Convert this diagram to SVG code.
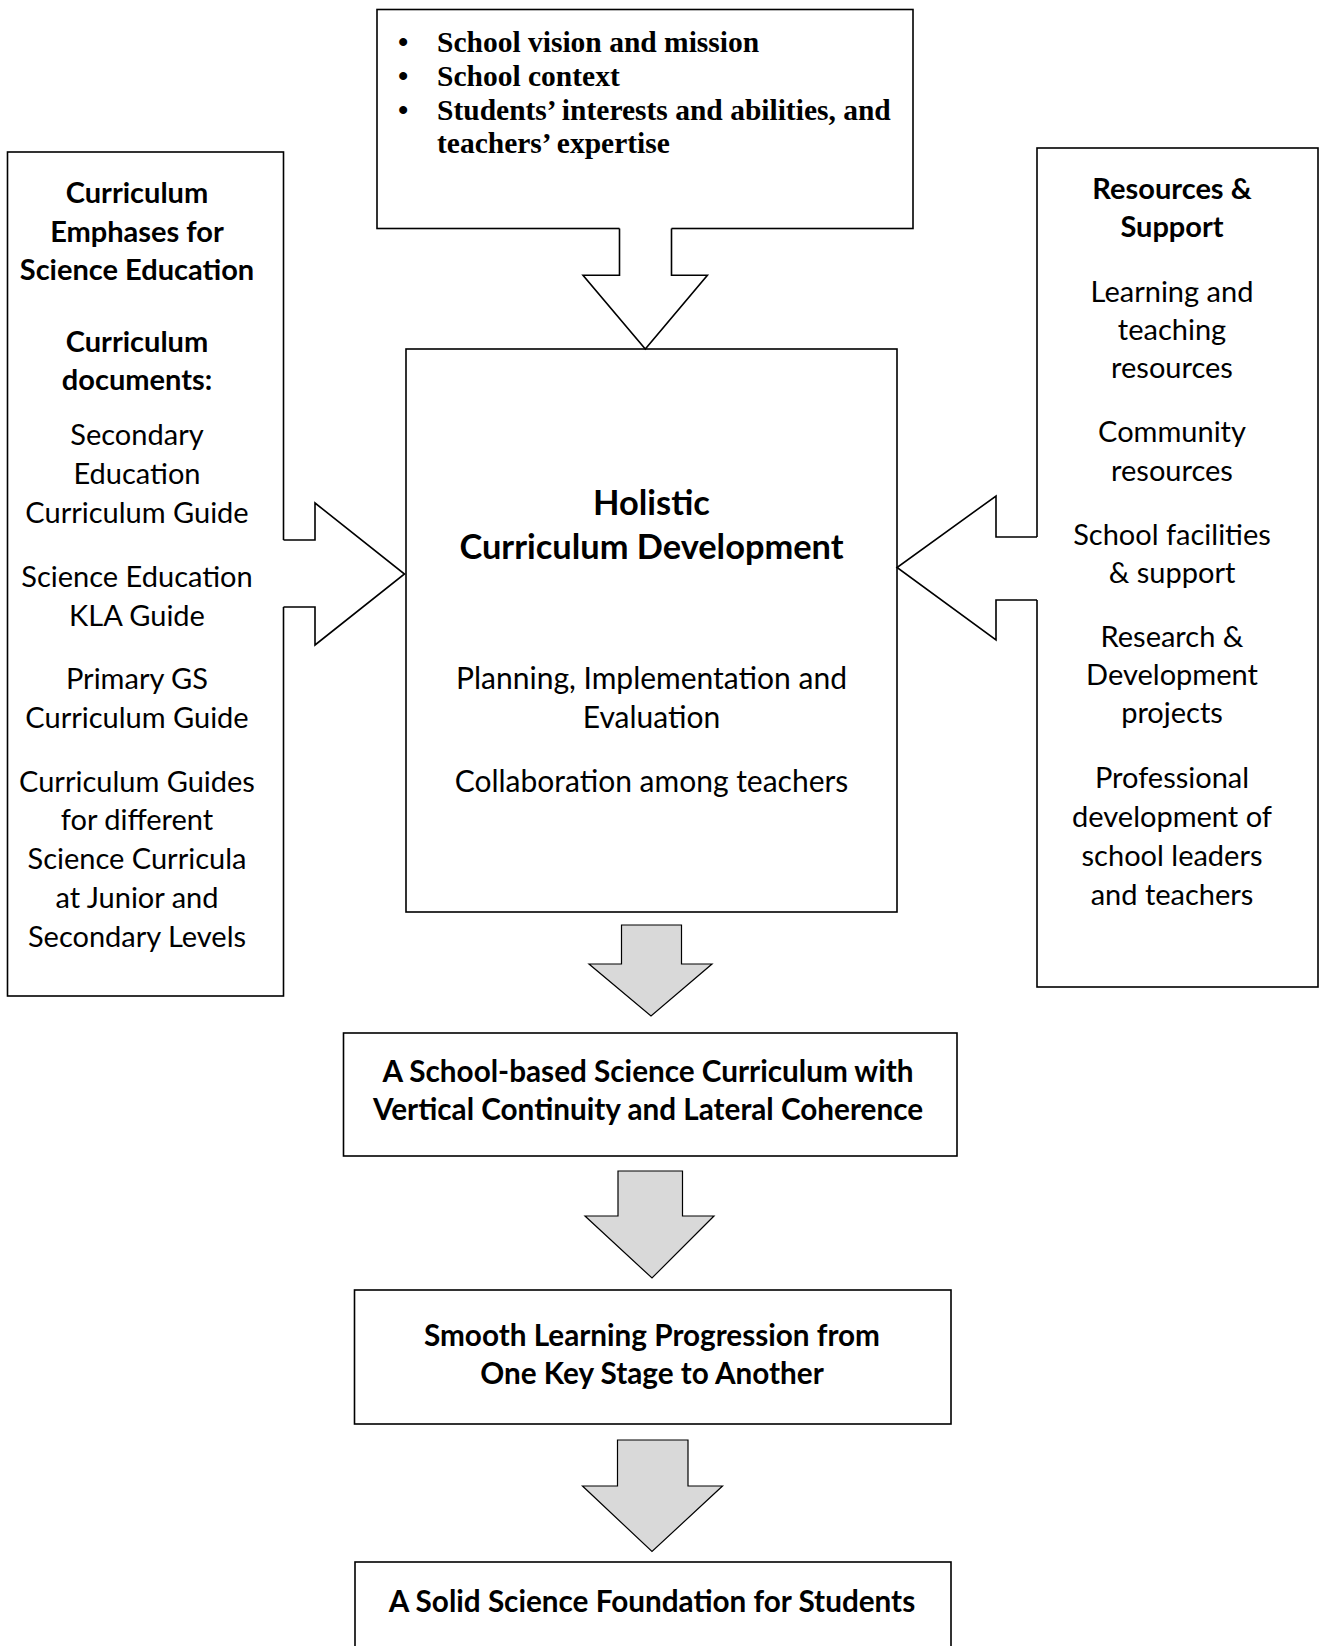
<svg xmlns="http://www.w3.org/2000/svg" width="1321" height="1646" viewBox="0 0 1321 1646">
<style>
.box{fill:#fff;stroke:#000;stroke-width:1.6}
.ln{fill:none;stroke:#000;stroke-width:1.6;stroke-linejoin:miter}
.wf{fill:#fff;stroke:none}
.ga{fill:#d9d9d9;stroke:#000;stroke-width:1.2;stroke-linejoin:miter}
.t{font-family:Lato,"Open Sans","Liberation Sans",sans-serif;font-size:29px;text-anchor:middle;fill:#000}
.c{font-size:30px}
.b{font-weight:bold}
.ti{font-size:34.4px}
.bt{font-family:Lato,"Open Sans","Liberation Sans",sans-serif;font-size:29.7px;font-weight:bold;text-anchor:middle;fill:#000}
.tm{font-family:"Liberation Serif","Times New Roman",serif;font-size:29.5px;font-weight:bold;fill:#000}
</style>
<rect width="1321" height="1646" fill="#fff"/>

<g id="context">
<rect class="box" x="377" y="9.5" width="536" height="219"/>
<text class="tm" x="398" y="52">•</text><text class="tm" x="437" y="52">School vision and mission</text>
<text class="tm" x="398" y="86">•</text><text class="tm" x="437" y="86">School context</text>
<text class="tm" x="398" y="119.5">•</text><text class="tm" x="437" y="119.5">Students’ interests and abilities, and</text>
<text class="tm" x="437" y="153">teachers’ expertise</text>
</g>

<g id="curriculum-documents">
<rect class="box" x="7.5" y="152" width="276" height="844"/>
<text class="t b" x="137" y="203">Curriculum</text>
<text class="t b" x="137" y="242">Emphases for</text>
<text class="t b" x="137" y="280">Science Education</text>
<text class="t b" x="137" y="352">Curriculum</text>
<text class="t b" x="137" y="390">documents:</text>
<text class="t" x="137" y="445">Secondary</text>
<text class="t" x="137" y="484">Education</text>
<text class="t" x="137" y="523">Curriculum Guide</text>
<text class="t" x="137" y="587">Science Education</text>
<text class="t" x="137" y="626">KLA Guide</text>
<text class="t" x="137" y="689">Primary GS</text>
<text class="t" x="137" y="728">Curriculum Guide</text>
<text class="t" x="137" y="792">Curriculum Guides</text>
<text class="t" x="137" y="830">for different</text>
<text class="t" x="137" y="869">Science Curricula</text>
<text class="t" x="137" y="908">at Junior and</text>
<text class="t" x="137" y="947">Secondary Levels</text>
</g>

<g id="resources-support">
<rect class="box" x="1037" y="148" width="281" height="839"/>
<text class="t b" x="1172" y="199">Resources &amp;</text>
<text class="t b" x="1172" y="237">Support</text>
<text class="t" x="1172" y="302">Learning and</text>
<text class="t" x="1172" y="340">teaching</text>
<text class="t" x="1172" y="378">resources</text>
<text class="t" x="1172" y="442">Community</text>
<text class="t" x="1172" y="481">resources</text>
<text class="t" x="1172" y="545">School facilities</text>
<text class="t" x="1172" y="583">&amp; support</text>
<text class="t" x="1172" y="647">Research &amp;</text>
<text class="t" x="1172" y="685">Development</text>
<text class="t" x="1172" y="723">projects</text>
<text class="t" x="1172" y="788">Professional</text>
<text class="t" x="1172" y="827">development of</text>
<text class="t" x="1172" y="866">school leaders</text>
<text class="t" x="1172" y="905">and teachers</text>
</g>

<g id="holistic">
<rect class="box" x="406" y="349" width="491" height="563"/>
<text class="t b ti" x="651.5" y="514.5">Holistic</text>
<text class="t b ti" x="651.5" y="559">Curriculum Development</text>
<text class="t c" x="651.5" y="689">Planning, Implementation and</text>
<text class="t c" x="651.5" y="728">Evaluation</text>
<text class="t c" x="651.5" y="792">Collaboration among teachers</text>
</g>

<g id="school-curriculum">
<rect class="box" x="343.5" y="1033" width="613.5" height="123"/>
<text class="bt" x="648" y="1082">A School-based Science Curriculum with</text>
<text class="bt" x="648" y="1120">Vertical Continuity and Lateral Coherence</text>
</g>

<g id="progression">
<rect class="box" x="354.5" y="1290" width="596.5" height="134"/>
<text class="bt" x="652" y="1346">Smooth Learning Progression from</text>
<text class="bt" x="652" y="1384">One Key Stage to Another</text>
</g>

<g id="foundation">
<rect class="box" x="355" y="1562" width="596" height="120"/>
<text class="bt" x="652" y="1612">A Solid Science Foundation for Students</text>
</g>

<g id="connectors">
<polygon class="wf" points="619.5,226 671.5,226 671.5,275.3 707.4,275.3 645.3,349 583,275.3 619.5,275.3"/>
<polyline class="ln" points="619.5,228.5 619.5,275.3 583,275.3 645.3,349 707.4,275.3 671.5,275.3 671.5,228.5"/>

<polygon class="wf" points="281,540 315,540 315,503 404.5,574 315,645 315,607 281,607"/>
<polyline class="ln" points="283.5,540 315,540 315,503 404.5,574 315,645 315,607 283.5,607"/>

<polygon class="wf" points="1039,537 996,537 996,496 897,567.5 996,640 996,600 1039,600"/>
<polyline class="ln" points="1037,537 996,537 996,496 897,567.5 996,640 996,600 1037,600"/>

<polygon class="ga" points="621.5,925 681.5,925 681.5,964 712,964 651,1016 589,964 621.5,964"/>
<polygon class="ga" points="618,1171 682.5,1171 682.5,1216 714,1216 652,1278 585,1216 618,1216"/>
<polygon class="ga" points="617.5,1440 688,1440 688,1486 722.5,1486 652,1551.5 582.5,1486 617.5,1486"/>
</g>
</svg>
